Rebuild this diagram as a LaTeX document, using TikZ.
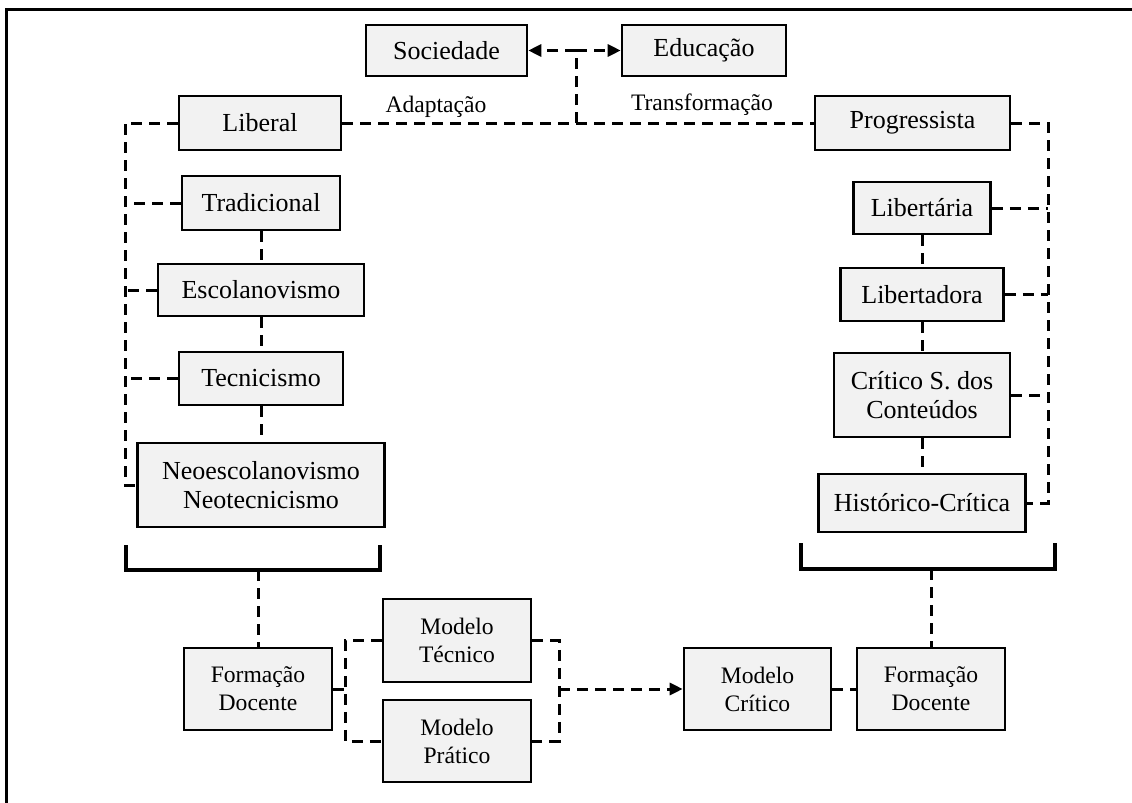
\documentclass[tikz,border=0pt]{standalone}
\usepackage{fontspec}
\setmainfont{Liberation Serif}
\usetikzlibrary{arrows.meta}
\definecolor{caixacinza}{HTML}{F2F2F2}

\begin{document}
\begin{tikzpicture}[x=0.5pt, y=-0.5pt,
		caixa/.style={draw=black, fill=caixacinza, line width=1.3pt, inner sep=0pt, align=center, font=\fontsize{13}{14.5}\selectfont},
		caixap/.style={caixa, font=\fontsize{11.8}{14}\selectfont},
		rotulo/.style={inner sep=0pt, font=\fontsize{11.8}{14}\selectfont},
		tracejado/.style={line width=1.5pt, dash pattern=on 5.5pt off 3.5pt},
		seta/.style={-{Triangle[length=6.5pt,width=6pt]}},
		chave/.style={line width=1.6pt}]
		%%%%% START %%%%%
		
		\useasboundingbox (0,0) rectangle (1132,803);
		\draw[line width=1.5pt] (6,803) -- (6,9) -- (1132,9);
		
		\node[caixa, minimum width=80.5pt, minimum height=25.5pt] (soc) at (446.5,50.5) {Sociedade};
		\node[caixa, minimum width=82pt, minimum height=25.5pt] (edu) at (704,50.5) {Educação};
		\node[rotulo] (adapt) at (436,107) {Adaptação};
		\node[rotulo] (transf) at (702,105) {Transformação};
		
		\node[caixa, minimum width=81pt, minimum height=27pt] (lib) at (260,123) {Liberal};
		\node[caixa, minimum width=97.5pt, minimum height=27pt] (prog) at (912.5,123) {Progressista};
		
		% tendencias liberais
		\node[caixa, minimum width=79pt, minimum height=27pt] (trad) at (261,203) {Tradicional};
		\node[caixa, minimum width=103pt, minimum height=26pt] (escola) at (261,290) {Escolanovismo};
		\node[caixa, minimum width=82pt, minimum height=26.5pt] (tecn) at (261,378.5) {Tecnicismo};
		\node[caixa, minimum width=123.5pt, minimum height=42pt] (neo) at (261,485) {Neoescolanovismo\\Neotecnicismo};
		
		% tendencias progressistas
		\node[caixa, minimum width=68.5pt, minimum height=26pt] (libt) at (922,208) {Libertária};
		\node[caixa, minimum width=81.5pt, minimum height=26.5pt] (libd) at (922,294.5) {Libertadora};
		\node[caixa, minimum width=88pt, minimum height=42pt] (crit) at (922,395) {Crítico S. dos\\Conteúdos};
		\node[caixa, minimum width=103.5pt, minimum height=29pt] (hist) at (922,503) {Histórico-Crítica};
		
		% formacao
		\node[caixap, minimum width=74pt, minimum height=41pt] (fdl) at (258,689) {Formação\\Docente};
		\node[caixap, minimum width=74pt, minimum height=41.5pt] (mtec) at (457,640.5) {Modelo\\Técnico};
		\node[caixap, minimum width=74pt, minimum height=41pt] (mprat) at (457,741) {Modelo\\Prático};
		\node[caixap, minimum width=73.5pt, minimum height=41pt] (mcrit) at (757.5,689) {Modelo\\Crítico};
		\node[caixap, minimum width=74pt, minimum height=41pt] (fdr) at (931,689) {Formação\\Docente};
		
		\coordinate (esq) at (125,123);
		\coordinate (dir) at (1048,123);
		\coordinate (junta) at (576,123);
		\coordinate (topo) at (576,50.5);
		\coordinate (gl) at (345,689);
		\coordinate (gr) at (559,689);
		\coordinate (chl) at (258,570);
		\coordinate (chr) at (931,569);
		
		\draw[tracejado] (lib.east) -- (prog.west);
		\draw[tracejado] (junta) -- (topo);
		\draw[tracejado, seta] (topo) -- (soc.east);
		\draw[tracejado, seta] (topo) -- (edu.west);
		
		\draw[tracejado] (lib.west) -- (esq) |- (neo.west);
		\foreach \n in {trad,escola,tecn}
			\draw[tracejado] (\n.west) -- (\n.west -| esq);
		\draw[tracejado] (trad.south) -- (escola.north);
		\draw[tracejado] (escola.south) -- (tecn.north);
		\draw[tracejado] (tecn.south) -- (neo.north);
		
		\draw[tracejado] (prog.east) -- (dir) |- (hist.east);
		\foreach \n in {libt,libd,crit}
			\draw[tracejado] (\n.east) -- (\n.east -| dir);
		\draw[tracejado] (libt.south) -- (libd.north);
		\draw[tracejado] (libd.south) -- (crit.north);
		\draw[tracejado] (crit.south) -- (hist.north);
		
		\draw[chave] (126,545) |- (380,570) -- (380,545);
		\draw[chave] (801,543) |- (1055,569) -- (1055,543);
		\draw[tracejado] (chl) -- (fdl.north);
		\draw[tracejado] (chr) -- (fdr.north);
		
		\draw[tracejado] (mtec.west) -| (gl) |- (mprat.west);
		\draw[tracejado] (fdl.east) -- (gl);
		\draw[tracejado] (mtec.east) -| (gr) |- (mprat.east);
		\draw[tracejado, seta] (gr) -- (mcrit.west);
		\draw[tracejado] (mcrit.east) -- (fdr.west);
		
		%%%%% END %%%%%
\end{tikzpicture}
\end{document}
